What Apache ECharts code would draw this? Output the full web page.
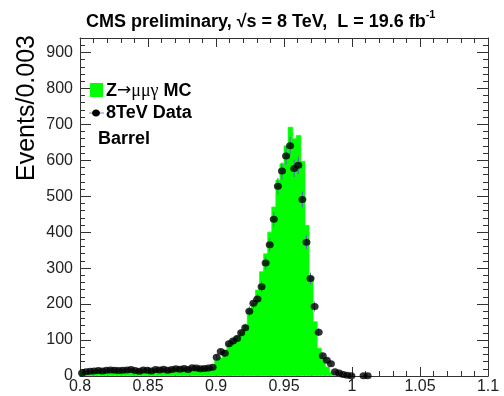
<!DOCTYPE html>
<html><head><meta charset="utf-8">
<script src="https://cdn.jsdelivr.net/npm/echarts@6/dist/echarts.min.js"></script>
<style>html,body{margin:0;padding:0;background:#fff}#c{width:504px;height:396px}</style>
</head><body><div id="c"></div>
<script>
// ---- data ----
const xStart = 0.8;
const binWidth = 0.003;
const xTickLabels = ['0.8','0.85','0.9','0.95','1','1.05','1.1'];
const yTickLabels = [0,100,200,300,400,500,600,700,800,900];
// MC histogram (Z->mumugamma MC), 100 bins from 0.8 to 1.1
const mcCounts = [
  14,9,10,11,10,11,12,11,12,11,
  12,13,12,13,12,13,14,13,14,13,
  15,14,15,16,15,16,17,16,18,19,
  20,21,24,44,50,72,91,100,110,123,
  142,183,202,239,290,340,400,470,545,590,
  640,692,660,669,597,419,276,151,77,48,
  25,10,3,1,0,0,0,0,0,0,
  0,0,0,0,0,0,0,0,0,0,
  0,0,0,0,0,0,0,0,0,0,
  0,0,0,0,0,0,0,0,0,0
];
// 8 TeV data points (null = no point drawn)
const dataCounts = [
  8,12,13,14,15,14,16,17,16,15,
  16,17,18,15,13,17,16,14,18,17,
  19,16,18,20,19,21,18,23,22,20,
  21,22,24,52,68,63,90,97,104,120,
  134,180,202,214,248,314,365,436,528,570,
  612,640,577,586,491,372,271,193,122,56,
  44,34,12,8,4,2,1,null,null,1,
  1,null,null,null,null,null,null,null,null,null,
  null,null,null,null,null,null,null,null,null,null,
  null,null,null,null,null,null,null,null,null,null
];

// ---- build ----
const FONT = "'Liberation Sans', Arial, Helvetica, sans-serif";
const histData = mcCounts.map((v, i) => [xStart + binWidth * i, xStart + binWidth * (i + 1), v]);
const pts = [];
dataCounts.forEach((v, i) => { if (v !== null) pts.push([xStart + binWidth * (i + 0.5), v]); });

const chart = echarts.init(document.getElementById('c'), null, {renderer: 'canvas'});
const axisLineStyle = {color: '#333', width: 1};
const xBase = {
  type: 'value', min: 0.8, max: 1.1, interval: 0.05,
  axisLine: {show: true, lineStyle: axisLineStyle, onZero: false},
  axisTick: {show: true, inside: true, length: 9, lineStyle: axisLineStyle},
  minorTick: {show: true, splitNumber: 5, length: 5, lineStyle: axisLineStyle},
  splitLine: {show: false}, minorSplitLine: {show: false}
};
const yBase = {
  type: 'value', min: 0, max: 940, interval: 100,
  axisLine: {show: true, lineStyle: axisLineStyle, onZero: false},
  axisTick: {show: true, inside: true, length: 11, lineStyle: axisLineStyle},
  minorTick: {show: true, splitNumber: 5, length: 5, lineStyle: axisLineStyle},
  splitLine: {show: false}, minorSplitLine: {show: false}
};

chart.setOption({
  animation: false,
  backgroundColor: '#fff',
  grid: {left: 80, right: 16, top: 38, bottom: 20, containLabel: false},
  xAxis: [
    Object.assign({}, xBase, {position: 'bottom',
      axisLabel: {show: true, fontSize: 16, color: '#222', fontFamily: FONT, margin: 3,
        formatter: v => { const idx = Math.round((v - 0.8) / 0.05); return xTickLabels[idx] || ''; }}}),
    Object.assign({}, xBase, {position: 'top', axisLabel: {show: false}})
  ],
  yAxis: [
    Object.assign({}, yBase, {position: 'left',
      axisLabel: {show: true, fontSize: 16, color: '#222', fontFamily: FONT, margin: 7,
        formatter: v => yTickLabels.indexOf(v) >= 0 ? String(v) : ''}}),
    Object.assign({}, yBase, {position: 'right', axisLabel: {show: false}})
  ],
  series: [
    {
      type: 'custom', name: 'MC', xAxisIndex: 0, yAxisIndex: 0,
      data: histData,
      encode: {x: [0, 1], y: 2},
      renderItem: function (params, api) {
        if (!(api.value(2) > 0)) return null;
        const p0 = api.coord([api.value(0), api.value(2)]);
        const p1 = api.coord([api.value(1), 0]);
        return {type: 'rect', shape: {x: p0[0], y: p0[1], width: p1[0] - p0[0] + 0.6, height: p1[1] - p0[1] - 0.5},
          style: {fill: '#00ff00', stroke: '#00ff00', lineWidth: 0.6}};
      },
      z: 2
    },
    {
      type: 'custom', name: 'err', xAxisIndex: 0, yAxisIndex: 0,
      data: pts,
      renderItem: function (params, api) {
        const x = api.value(0), v = api.value(1), e = Math.sqrt(v);
        const a = api.coord([x, Math.max(0, v - e)]);
        const b = api.coord([x, v + e]);
        return {type: 'line', shape: {x1: a[0], y1: a[1], x2: b[0], y2: b[1]},
          style: {stroke: '#6a5acd', lineWidth: 1}};
      },
      z: 3
    },
    {
      type: 'scatter', name: 'Data', xAxisIndex: 0, yAxisIndex: 0,
      data: pts, symbol: 'circle', symbolSize: [8, 7],
      itemStyle: {color: '#000'}, z: 4
    }
  ],
  graphic: [
    {type: 'text', left: 86, top: 9, style: {
      text: '{a|CMS preliminary, √s = 8 TeV,  L = 19.6 fb}{s|-1}',
      rich: {
        a: {fontSize: 18, fontWeight: 'bold', fontFamily: FONT, fill: '#000', lineHeight: 22, verticalAlign: 'bottom'},
        s: {fontSize: 11, fontWeight: 'bold', fontFamily: FONT, fill: '#000', lineHeight: 22, verticalAlign: 'top'}
      }}},
    {type: 'text', x: 27, y: 108, rotation: Math.PI / 2, style: {
      text: 'Events/0.003', font: '25px ' + FONT, fill: '#000', textAlign: 'center', textVerticalAlign: 'middle'}},
    {type: 'rect', shape: {x: 90, y: 83, width: 13, height: 14}, style: {fill: '#00ff00'}, z: 10},
    {type: 'text', x: 106, y: 91, z: 10, style: {
      text: '{b|Z}{r|→}{g|μμγ}{b| MC}', textVerticalAlign: 'middle',
      rich: {
        b: {fontSize: 18, fontWeight: 'bold', fontFamily: FONT, fill: '#000'},
        r: {fontSize: 17, fontFamily: "'DejaVu Sans', sans-serif", fill: '#000'},
        g: {fontSize: 18, fontFamily: "'Liberation Serif', 'DejaVu Serif', serif", fill: '#000'}
      }}},
    {type: 'line', shape: {x1: 89, y1: 113, x2: 104, y2: 113}, style: {stroke: '#8a7fd0', lineWidth: 1}, z: 10},
    {type: 'ellipse', shape: {cx: 96, cy: 113, rx: 4, ry: 3.5}, style: {fill: '#000'}, z: 11},
    {type: 'text', x: 106, y: 113, z: 10, style: {
      text: '8TeV Data', font: 'bold 18px ' + FONT, fill: '#000', textVerticalAlign: 'middle'}},
    {type: 'text', x: 98, y: 139, z: 10, style: {
      text: 'Barrel', font: 'bold 18px ' + FONT, fill: '#000', textVerticalAlign: 'middle'}}
  ]
});
</script>
</body></html>
